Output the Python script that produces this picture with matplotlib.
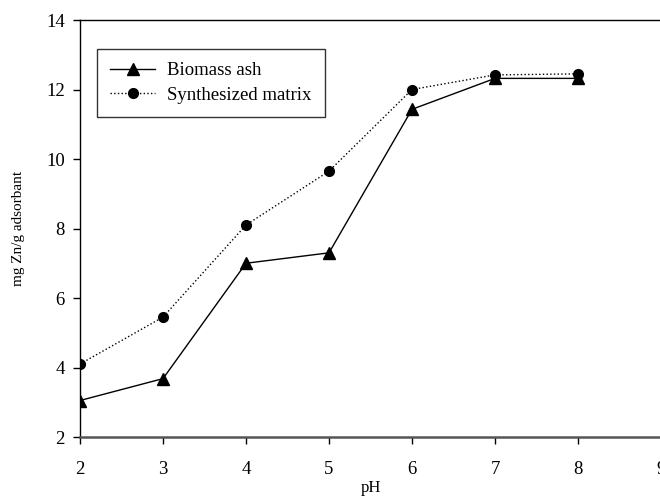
import matplotlib
matplotlib.use("Agg")
import matplotlib.pyplot as plt

# pH vs mg Zn / g adsorbant
ph = [2, 3, 4, 5, 6, 7, 8]
biomass_ash = [3.05, 3.68, 7.0, 7.3, 11.43, 12.32, 12.32]
synth_matrix = [4.1, 5.45, 8.1, 9.65, 12.0, 12.42, 12.45]

xticks = [2, 3, 4, 5, 6, 7, 8, 9]
yticks = [2, 4, 6, 8, 10, 12, 14]

plt.rcParams['font.family'] = ['Liberation Serif', 'DejaVu Serif']

fig = plt.figure(figsize=(6.6, 4.98), dpi=100)
ax = fig.add_axes([80 / 660, 61 / 498, 581 / 660, 417 / 498])

ax.plot(ph, biomass_ash, color='black', linestyle='-', linewidth=1,
        marker='^', markersize=8, label='Biomass ash')
ax.plot(ph, synth_matrix, color='black', linestyle=':', linewidth=1,
        marker='o', markersize=7, label='Synthesized matrix')

ax.set_xlim(2, 9)
ax.set_ylim(2, 14)
ax.set_xticks(xticks)
ax.set_yticks(yticks)
ax.tick_params(direction='out', length=5, width=1, labelsize=13.5)
ax.tick_params(axis='y', pad=6)
ax.tick_params(axis='x', pad=12)

ax.spines['bottom'].set_color('#555555')
ax.spines['bottom'].set_linewidth(1.8)
for s in ['left', 'top', 'right']:
    ax.spines[s].set_linewidth(1)
    ax.spines[s].set_color('black')

ax.set_xlabel('pH', fontsize=12, labelpad=2)
ax.set_ylabel('mg Zn/g adsorbant', fontsize=11, labelpad=15)

leg = ax.legend(loc='upper left', bbox_to_anchor=(17 / 581, 1 - 29 / 417),
                fontsize=13.5, frameon=True, fancybox=False, borderpad=0.7,
                handlelength=2.4, handletextpad=0.64, labelspacing=0.4,
                borderaxespad=0)
leg.get_frame().set_edgecolor('black')
leg.get_frame().set_linewidth(1)

fig.savefig('out.png', dpi=100)
